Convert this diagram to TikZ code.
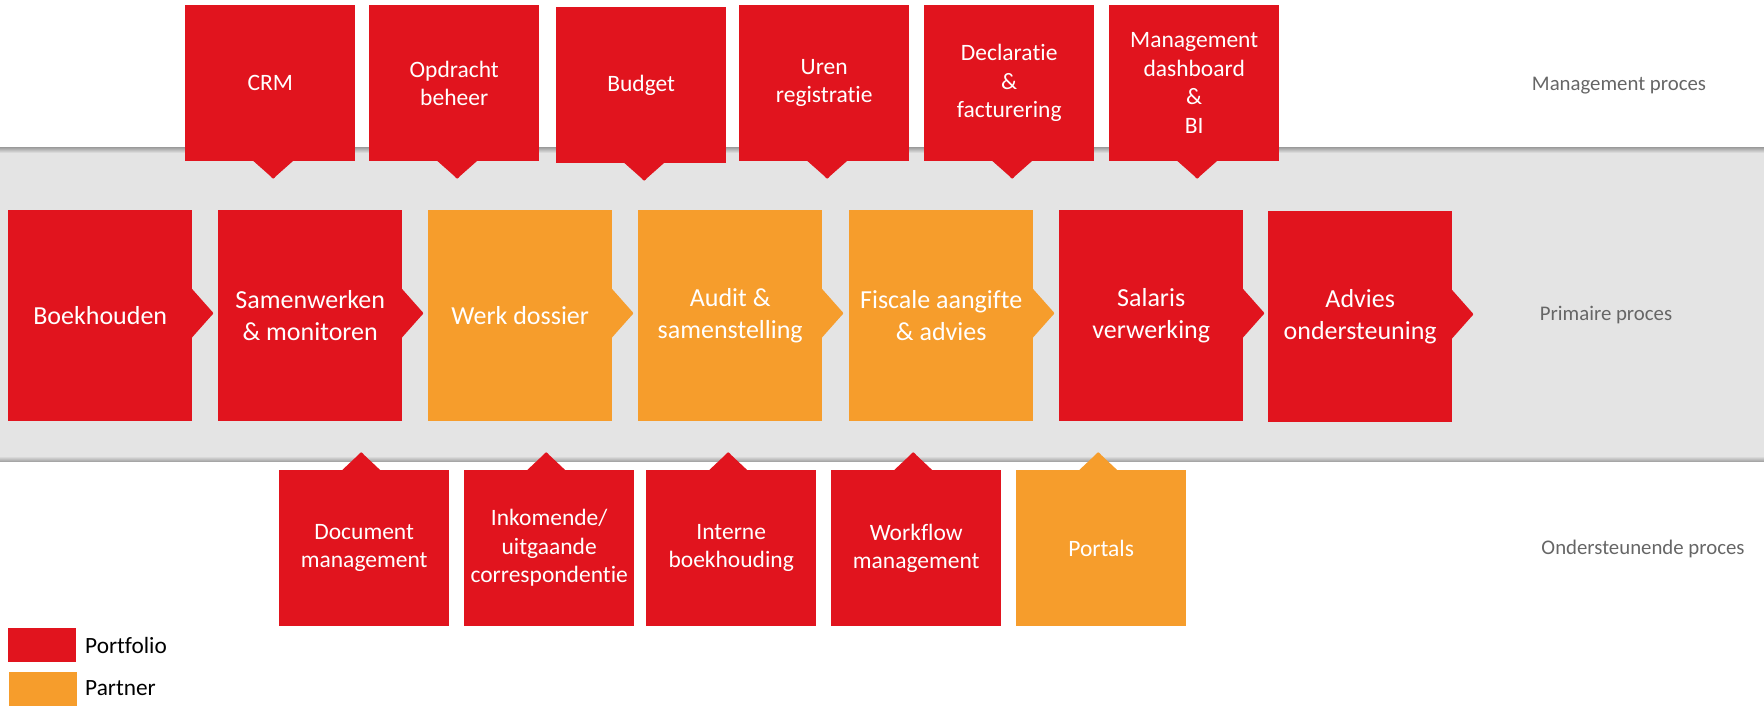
\documentclass[tikz,border=0pt]{standalone}
\usepackage{fontspec}
\setmainfont[Ligatures=CommonOff]{Carlito}
\usetikzlibrary{calc}
\definecolor{pred}{HTML}{E1141E}
\definecolor{porange}{HTML}{F69D2C}
\definecolor{bandgray}{HTML}{E4E4E4}
\definecolor{shadowgray}{HTML}{A0A0A0}
\definecolor{labgray}{HTML}{666666}
\tikzset{
  basebox/.style={rectangle, fill=#1, text=white, align=center, inner sep=0pt, anchor=north west},
  pbox/.style={basebox=#1, minimum width=184pt, minimum height=211pt, font=\fontsize{26}{31.5}\selectfont},
  tbox/.style={basebox=#1, minimum width=170pt, minimum height=156pt, font=\fontsize{23.5}{28.5}\selectfont},
  sidelabel/.style={text=labgray, inner sep=0pt, font=\fontsize{20.8}{24}\selectfont},
  swatch/.style={rectangle, fill=#1, inner sep=0pt, anchor=north west, minimum width=68pt, minimum height=34pt},
  legtext/.style={text=black, inner sep=0pt, anchor=west, font=\fontsize{23.3}{28}\selectfont},
}
\newcommand\mydowntip[3]{\fill[#2,shift={($(#1.south)+(#3,0)$)}] (-20.5,-1) -- (-3,14.5) .. controls (0,18) .. (3,14.5) -- (20.5,-1) -- cycle;}
\newcommand\myuptip[3]{\fill[#2,shift={($(#1.north)+(#3,0)$)}] (-20,1) -- (-3,-15) .. controls (0,-18.5) .. (3,-15) -- (20,1) -- cycle;}
\newcommand\myrighttip[2]{\fill[#2,shift={($(#1.east)+(0,-2.5)$)}] (-1,-25) -- (18.5,-3) .. controls (21.5,0) .. (18.5,3) -- (-1,25) -- cycle;}
\begin{document}
\begin{tikzpicture}[x=1pt,y=-1pt]
\useasboundingbox (0,0) rectangle (1764,705);
% band
\fill[bandgray] (0,148) rectangle (1764,461);
\shade[top color=shadowgray, bottom color=bandgray] (0,147.5) rectangle (1764,153);
\shade[top color=bandgray, bottom color=shadowgray] (0,456) rectangle (1764,461.5);
% management boxes
\node[tbox=pred] (m1) at (185,5) {CRM};
\node[tbox=pred] (m2) at (369,5) {Opdracht\\beheer};
\node[tbox=pred] (m3) at (556,7) {Budget};
\node[tbox=pred] (m4) at (739,5) {Uren\\registratie};
\node[tbox=pred] (m5) at (924,5) {Declaratie\\\&\\facturering};
\node[tbox=pred] (m6) at (1109,5) {Management\\dashboard\\\&\\BI};
\foreach \n in {m1,m2,m3,m4,m5,m6} {\mydowntip{\n}{pred}{3}}
% primary boxes
\node[pbox=pred] (p1) at (8,210) {Boekhouden};
\node[pbox=pred] (p2) at (218,210) {Samenwerken\\\& monitoren};
\node[pbox=porange] (p3) at (428,210) {Werk dossier};
\node[pbox=porange] (p4) at (638,210) {Audit \&\\samenstelling};
\node[pbox=porange] (p5) at (849,210) {Fiscale aangifte\\\& advies};
\node[pbox=pred] (p6) at (1059,210) {Salaris\\verwerking};
\node[pbox=pred] (p7) at (1268,211) {Advies\\ondersteuning};
\myrighttip{p1}{pred}
\myrighttip{p2}{pred}
\myrighttip{p3}{porange}
\myrighttip{p4}{porange}
\myrighttip{p5}{porange}
\myrighttip{p6}{pred}
\myrighttip{p7}{pred}
% supporting boxes
\node[tbox=pred] (s1) at (279,470) {Document\\management};
\node[tbox=pred] (s2) at (464,470) {Inkomende/\\uitgaande\\correspondentie};
\node[tbox=pred] (s3) at (646,470) {Interne\\boekhouding};
\node[tbox=pred] (s4) at (831,470) {Workflow\\management};
\node[tbox=porange] (s5) at (1016,470) {Portals};
\myuptip{s1}{pred}{-3}
\myuptip{s2}{pred}{-3}
\myuptip{s3}{pred}{-3}
\myuptip{s4}{pred}{-3}
\myuptip{s5}{porange}{-3}
% side labels
\node[sidelabel] (lm) at (1619,86) {Management proces};
\node[sidelabel] (lp) at (1606,315) {Primaire proces};
\node[sidelabel] (lo) at (1643,549) {Ondersteunende proces};
% legend
\node[swatch=pred] (g1) at (8,628) {};
\node[swatch=porange] (g2) at (9,672) {};
\node[legtext] (t1) at (85,645) {Portfolio};
\node[legtext] (t2) at (85,688) {Partner};
\end{tikzpicture}
\end{document}
